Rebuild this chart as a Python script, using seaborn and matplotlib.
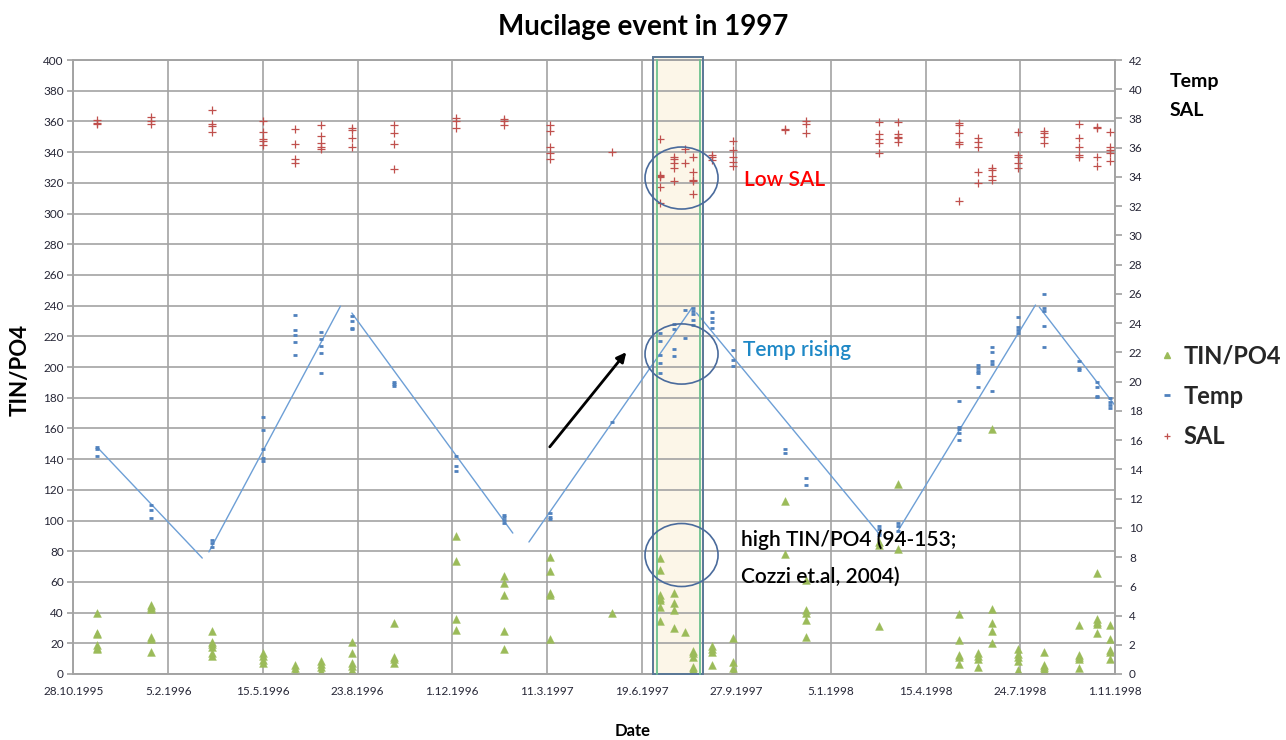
import numpy as np
import pandas as pd
import matplotlib
matplotlib.use("Agg")
import matplotlib.pyplot as plt
from matplotlib.patches import Ellipse, Rectangle
from matplotlib.lines import Line2D
import seaborn as sns

# ---------------- data ----------------
sample_dates = [
    "1995-11-22", "1996-01-18", "1996-03-22", "1996-05-15", "1996-06-18",
    "1996-07-15", "1996-08-17", "1996-10-01", "1996-12-05", "1997-01-25",
    "1997-03-14", "1997-05-19", "1997-07-08", "1997-07-23", "1997-08-04",
    "1997-08-12", "1997-09-01", "1997-09-24", "1997-11-17", "1997-12-10",
    "1998-02-25", "1998-03-17", "1998-05-20", "1998-06-09", "1998-06-24",
    "1998-07-21", "1998-08-18", "1998-09-24", "1998-10-13", "1998-10-27",
]

sal_values = [
    [37.9, 37.7, 37.6], [38.1, 37.85, 37.6], [38.55, 37.6, 37.5, 37.05],
    [37.8, 37.05, 36.57, 36.48, 36.2], [37.26, 36.23, 35.2, 34.93],
    [37.55, 36.8, 36.3, 36.07, 35.93], [37.37, 37.2, 36.64, 36.03],
    [37.53, 36.98, 36.25, 34.54], [38.0, 37.85, 37.33], [37.94, 37.85, 37.53],
    [37.53, 37.14, 36.07, 35.66, 35.25], [35.73],
    [36.6, 34.13, 34.06, 34.0, 33.33, 32.24], [35.4, 35.2, 34.93, 34.59, 33.72],
    [35.93, 34.93], [35.34, 34.32, 33.8, 33.72, 32.81], [35.5, 35.34, 35.16],
    [36.48, 35.84, 35.34, 35.04, 34.77], [37.3, 37.2], [37.82, 37.6, 37.03],
    [37.78, 36.92, 36.57, 36.34, 35.66], [37.74, 36.94, 36.75, 36.64, 36.41],
    [37.71, 37.55, 36.98, 36.41, 36.25, 32.35], [36.64, 36.41, 36.03, 34.36, 33.6],
    [34.59, 34.47, 34.06, 33.79], [37.09, 35.5, 35.34, 34.93, 34.63],
    [37.14, 36.98, 36.71, 36.34], [37.62, 36.64, 36.03, 35.5, 35.34],
    [37.39, 37.33, 35.34, 34.77], [37.05, 36.07, 35.84, 35.61, 35.09],
]

temp_values = [
    [15.55, 15.4, 14.91], [11.56, 11.22, 10.69], [9.17, 8.94, 8.67],
    [17.56, 16.69, 15.37, 14.79, 14.57], [24.56, 23.53, 23.19, 22.73, 21.82],
    [23.37, 22.89, 22.43, 21.94, 20.61], [24.49, 24.17, 23.69, 23.6],
    [19.95, 19.84, 19.7], [14.93, 14.23, 13.91], [10.88, 10.72, 10.53, 10.31],
    [10.99, 10.76, 10.58], [17.21], [23.3, 22.8, 21.8, 21.3, 20.6],
    [23.92, 23.58, 22.23, 21.75], [24.88, 23.0], [25.05, 24.83, 24.6, 24.21, 23.87],
    [24.79, 24.33, 24.06, 23.65], [22.16, 21.48, 21.07], [15.37, 15.14],
    [13.39, 12.93], [10.12, 9.9, 9.67, 9.51], [10.35, 10.12, 9.8],
    [18.67, 16.92, 16.74, 16.51, 16.0], [21.14, 20.91, 20.75, 20.57, 19.61],
    [22.35, 22.05, 21.43, 21.18, 19.36], [24.45, 23.72, 23.53, 23.3],
    [25.97, 25.01, 24.85, 23.82, 22.35], [21.43, 20.91, 20.79],
    [20.0, 19.61, 19.01, 18.93], [18.9, 18.63, 18.4, 18.17],
]

tin_values = [
    [39.5, 26.9, 26.1, 18.9, 16.7, 16.1], [45.0, 43.5, 42.1, 24.3, 22.6, 14.5],
    [28.0, 21.0, 19.5, 17.8, 13.5, 11.7], [13.5, 11.7, 9.1, 7.0], [5.9, 4.1, 2.2],
    [8.5, 6.5, 4.8, 2.2], [21.0, 13.5, 7.4, 5.4, 2.6], [33.0, 11.3, 9.6, 7.4],
    [89.9, 73.6, 35.8, 28.7], [63.8, 59.1, 51.5, 28.0, 16.3],
    [76.4, 67.1, 52.6, 51.5, 22.6], [39.9],
    [75.4, 67.8, 51.5, 49.7, 48.2, 43.8, 34.5], [52.6, 46.1, 41.7, 29.8], [27.2],
    [15.0, 13.5, 11.3, 4.8, 3.3, 1.1], [18.4, 16.3, 14.1, 5.9], [23.3, 7.6, 3.7, 1.5],
    [113.0, 78.2], [61.2, 41.7, 39.9, 35.2, 23.9], [86.2, 84.0, 31.3], [123.8, 81.2],
    [38.9, 22.1, 12.4, 10.9, 6.5], [13.5, 11.7, 9.6, 4.4],
    [159.4, 42.1, 33.4, 28.2, 20.0], [16.1, 13.0, 10.9, 8.7, 2.6],
    [14.5, 5.9, 4.8, 3.1, 1.5], [31.9, 12.4, 11.3, 9.6, 3.7],
    [66.0, 35.6, 34.1, 32.6, 26.5], [31.9, 22.6, 15.6, 14.5, 9.6],
]

# hand-drawn temperature trend segments (start/end)
trend_start_dates = ["1995-11-23", "1996-03-19", "1996-08-17", "1997-02-20",
                     "1997-08-16", "1998-03-16", "1998-08-13"]
trend_start_temps = [15.45, 8.35, 24.69, 9.03, 24.7, 9.71, 25.1]
trend_end_dates = ["1996-03-12", "1996-08-05", "1997-02-03", "1997-08-11",
                   "1998-02-26", "1998-08-09", "1998-11-03"]
trend_end_temps = [7.93, 25.17, 9.64, 25.03, 9.5, 25.24, 18.2]

xtick_labels = ["28.10.1995", "5.2.1996", "15.5.1996", "23.8.1996", "1.12.1996",
                "11.3.1997", "19.6.1997", "27.9.1997", "5.1.1998", "15.4.1998",
                "24.7.1998", "1.11.1998"]
left_ticks = list(range(0, 401, 20))
right_ticks = list(range(0, 43, 2))
highlight_period = ["1997-07-01", "1997-08-23"]
highlight_inner = ["1997-07-05", "1997-08-20"]


def long_frame(values):
    rows = [(pd.Timestamp(d), v) for d, vs in zip(sample_dates, values) for v in vs]
    return pd.DataFrame(rows, columns=["date", "value"])


df_sal = long_frame(sal_values)
df_temp = long_frame(temp_values)
df_tin = long_frame(tin_values)
df_trend = pd.DataFrame({
    "date": [pd.Timestamp(d) for d in trend_start_dates + trend_end_dates],
    "value": trend_start_temps + trend_end_temps,
    "segment": list(range(len(trend_start_dates))) * 2,
})
tick_dates = [pd.to_datetime(t, format="%d.%m.%Y") for t in xtick_labels]

# ---------------- style ----------------
sns.set_theme(style="white")
plt.rcParams["font.family"] = ["Lato", "DejaVu Sans"]

C_TIN = "#9bbb59"
C_TEMP = "#4f81bd"
C_SAL = "#c0504d"
C_GRID = "#a3a3a3"
C_TICK = "#262636"

fig = plt.figure(figsize=(12.86, 7.40), dpi=100)
ax = fig.add_axes([0.05715, 0.08919, 0.8099, 0.8297])
ax2 = ax.twinx()

# TIN/PO4 on left axis
sns.scatterplot(data=df_tin, x="date", y="value", ax=ax, marker="^", s=32,
                color=C_TIN, edgecolor=C_TIN, linewidth=0.3, zorder=3, legend=False)

# Temp & SAL on right axis
sns.lineplot(data=df_trend, x="date", y="value", units="segment", estimator=None,
             sort=False, ax=ax2, color="#6d9fd6", linewidth=1.0, zorder=2, legend=False)
sns.scatterplot(data=df_temp, x="date", y="value", ax=ax2, marker="_", s=12,
                color=C_TEMP, linewidth=2.0, zorder=3, legend=False)
sns.scatterplot(data=df_sal, x="date", y="value", ax=ax2, marker="+", s=26,
                color=C_SAL, linewidth=0.9, zorder=3, legend=False)

# axes limits / ticks
ax.set_xlim(tick_dates[0], tick_dates[-1])
ax.set_ylim(0, 400)
ax2.set_ylim(0, 42)
ax.set_xticks(tick_dates)
ax.set_xticklabels(xtick_labels)
ax.set_yticks(left_ticks)
ax2.set_yticks(right_ticks)
ax.set_xlabel("")
ax.set_ylabel("")
ax2.set_xlabel("")
ax2.set_ylabel("")

ax.set_axisbelow(True)
ax.grid(True, color=C_GRID, linewidth=1.2)
ax2.grid(False)
for a in (ax, ax2):
    for sp in a.spines.values():
        sp.set_color(C_GRID)
        sp.set_linewidth(1.2)

ax.tick_params(axis="x", length=0, pad=9, labelsize=8.5, labelcolor=C_TICK)
ax.tick_params(axis="y", left=True, length=4, color=C_GRID, pad=3,
               labelsize=8.5, labelcolor=C_TICK)
ax2.tick_params(axis="y", right=True, length=5, color=C_GRID, pad=5,
                labelsize=8.5, labelcolor=C_TICK)

# highlight band (mucilage period)
xt = ax.get_xaxis_transform()
h0, h1 = pd.Timestamp(highlight_period[0]), pd.Timestamp(highlight_period[1])
ax.add_patch(Rectangle((h0, 0), h1 - h0, 1.005, transform=xt, facecolor="#fbefd6",
                       alpha=0.55, edgecolor="none", zorder=0.3, clip_on=False))
xt2 = ax2.get_xaxis_transform()
ax2.add_patch(Rectangle((h0, 0), h1 - h0, 1.005, transform=xt2, facecolor="none",
                        edgecolor="#5a7796", linewidth=1.4, zorder=4, clip_on=False))
for d in highlight_inner:
    ax2.plot([pd.Timestamp(d)] * 2, [0, 1.0], transform=xt2, color="#6cc38e",
             linewidth=1.3, zorder=4, clip_on=False)

# ellipses
for cy, h in [(0.8078, 0.101), (0.5212, 0.098), (0.1938, 0.1026)]:
    ax2.add_patch(Ellipse((0.5838, cy), 0.0701, h, transform=ax2.transAxes,
                          facecolor="none", edgecolor="#4a6b9c", linewidth=1.2, zorder=5))

# arrow
ax2.annotate("", xy=(0.5324, 0.5277), xytext=(0.4556, 0.3664),
             xycoords="axes fraction", textcoords="axes fraction",
             arrowprops=dict(arrowstyle="-|>", color="black", lw=2.0, mutation_scale=14))

# texts
fig.text(0.5, 0.9635, "Mucilage event in 1997", ha="center", va="center",
         fontsize=20, fontweight="bold", color="black")
fig.text(744 / 1286, 1 - 180 / 740, "Low SAL", ha="left", va="center",
         fontsize=15, fontweight="semibold", color="#ff0000")
fig.text(743 / 1286, 1 - 350 / 740, "Temp rising", ha="left", va="center",
         fontsize=15, fontweight="semibold", color="#1e88c6")
fig.text(741 / 1286, 1 - 540 / 740, "high TIN/PO4 (94-153;", ha="left", va="center",
         fontsize=15, fontweight="semibold", color="black")
fig.text(741 / 1286, 1 - 577 / 740, "Cozzi et.al, 2004)", ha="left", va="center",
         fontsize=15, fontweight="semibold", color="black")
fig.text(20 / 1286, 0.5, "TIN/PO4", rotation=90, ha="center", va="center",
         fontsize=16, fontweight="bold", color="black")
fig.text(633 / 1286, 1 - 731 / 740, "Date", ha="center", va="center",
         fontsize=12, fontweight="bold", color="black")
fig.text(1170 / 1286, 1 - 82 / 740, "Temp", ha="left", va="center",
         fontsize=14, fontweight="bold", color="black")
fig.text(1170 / 1286, 1 - 110 / 740, "SAL", ha="left", va="center",
         fontsize=14, fontweight="bold", color="black")

# legend
handles = [
    Line2D([], [], linestyle="none", marker="^", markersize=5, color=C_TIN),
    Line2D([], [], linestyle="none", marker="_", markersize=4, markeredgewidth=2.0, color=C_TEMP),
    Line2D([], [], linestyle="none", marker="+", markersize=5, markeredgewidth=0.9, color=C_SAL),
]
fig.legend(handles, ["TIN/PO4", "Temp", "SAL"], loc="center left",
           bbox_to_anchor=(1160 / 1286, 1 - 396 / 740), frameon=False,
           prop={"size": 17, "weight": "bold"}, handlelength=0.6, handletextpad=0.4,
           labelspacing=0.74, borderpad=0, borderaxespad=0)

fig.savefig("out.png", dpi=100)
